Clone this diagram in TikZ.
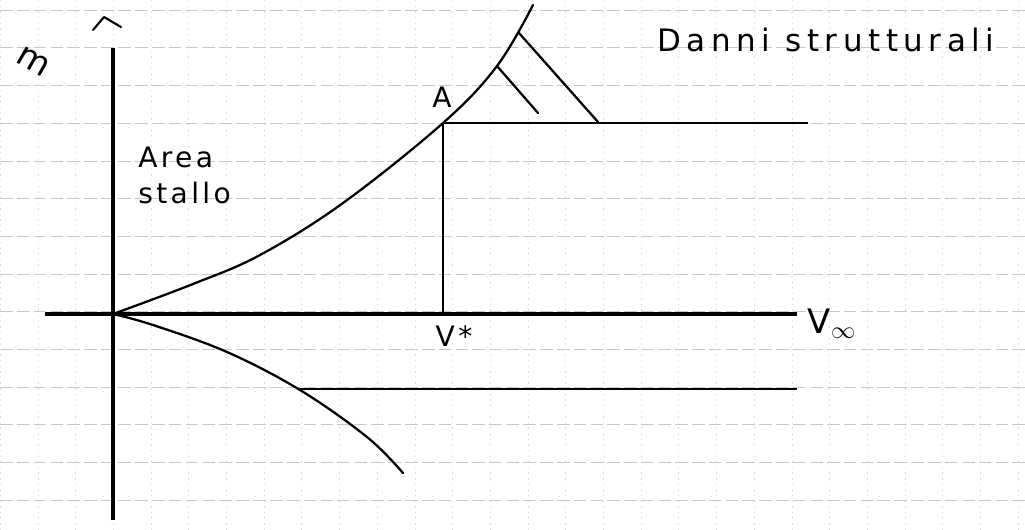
\documentclass[tikz,border=0pt]{standalone}
\usepackage{amsmath}
\usepackage{fontspec}
\newfontfamily\handfont[LetterSpace=12]{DejaVu Sans}
\newfontfamily\handwide[LetterSpace=18]{DejaVu Sans}
\tikzset{
  grid row/.style={black!22, dash pattern=on 9pt off 3pt, line width=.35pt},
  grid col/.style={black!14, dash pattern=on 1pt off 3pt, line width=.35pt},
  axis line/.style={black, line width=2.3pt},
  env curve/.style={black, line width=1.6pt, line cap=round, line join=round},
  limit line/.style={black, line width=1.8pt},
  hand label/.style={font=\handfont\fontsize{20}{24}\selectfont, inner sep=0pt},
}

\begin{document}
\begin{tikzpicture}[x=0.025cm,y=-0.025cm]
  \useasboundingbox (0,0) rectangle (1025,529);

  % squared paper
  \foreach \k in {0,...,13}
    \draw[grid row] (0,10+37.7*\k)--(1025,10+37.7*\k);
  \foreach \k in {0,...,27}
    \draw[grid col] (1018-37.7*\k,0)--(1018-37.7*\k,529);

  % key points
  \coordinate (O) at (113,314);
  \coordinate (A) at (443,123);
  \coordinate (Astar) at (443,314);
  \coordinate (ntop) at (113,48);
  \coordinate (nbot) at (113,520);
  \coordinate (vleft) at (45,314);
  \coordinate (vright) at (797,314);

  % axes
  \draw[axis line] (vleft)--(vright);
  \draw[axis line] (nbot)--(ntop);
  \draw[line width=1.5pt,line cap=round,line join=round] (93,30)--(104,17)--(121,27);

  % positive stall curve, through A and beyond
  \draw[env curve] plot[smooth,tension=.6] coordinates {(O) (193,284)
    (260,255) (343,203) (A) (497,66) (533,5)};
  % negative stall curve
  \draw[env curve] plot[smooth,tension=.6] coordinates {(O) (153,325)
    (227,352) (300,390) (367,437) (403,473)};

  % structural limits
  \coordinate (Aend) at (808,123);
  \coordinate (negstart) at (300,389);
  \coordinate (negend) at (797,389);
  \draw[limit line] (A)--(Aend);
  \draw[limit line] (negstart)--(negend);
  \draw[line width=1.1pt] (A)--(Astar);

  % hatching beyond the curve
  \draw[env curve] (497,66)--(538,113);
  \draw[env curve] (519,33)--(598,122);

  % labels
  \node[hand label,font=\handfont\fontsize{24}{26}\selectfont,rotate=-30] (nlab) at (33,62) {m};
  \node[hand label] (Alab) at (442,97) {A};
  \node[hand label] (vstar) at (454,336) {V*};
  \node[hand label,font=\handfont\fontsize{24}{26}\selectfont] (vinf) at (832,324) {V$_{\infty}$};
  \node[hand label,anchor=west] (area) at (138,157) {Area};
  \node[hand label,anchor=west] (stallo) at (138,193) {stallo};
  \node[hand label,font=\handwide\fontsize{22}{24}\selectfont,anchor=west] (danni) at (657,40) {Danni strutturali};
\end{tikzpicture}
\end{document}
